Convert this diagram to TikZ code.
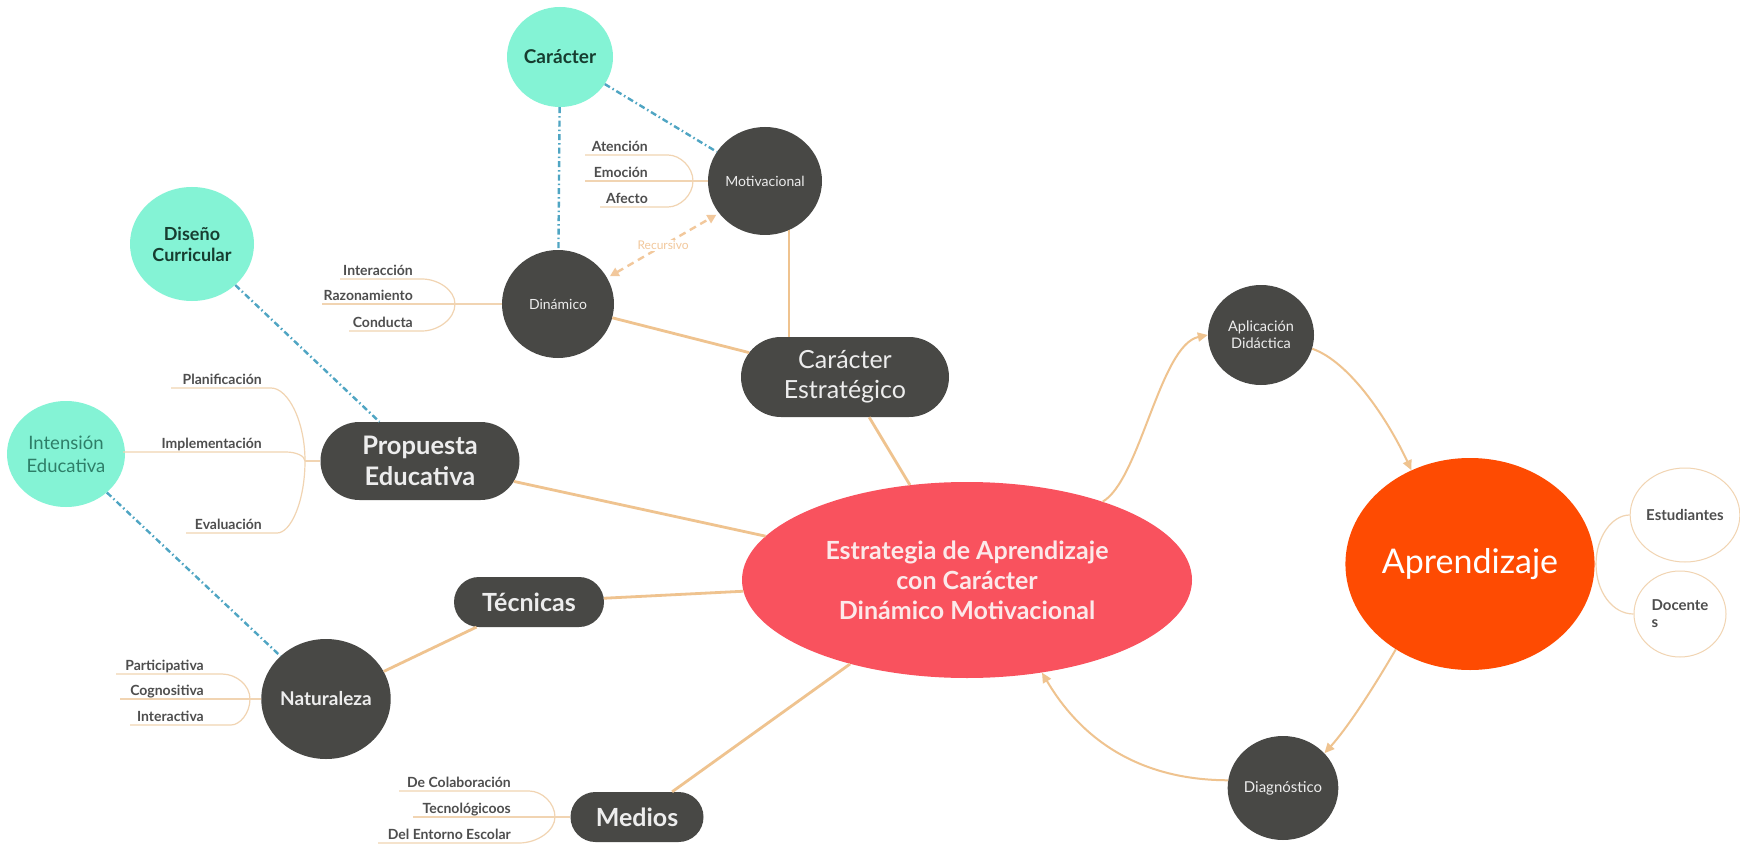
\documentclass[tikz,border=0pt]{standalone}
\usepackage{fontspec}
\setmainfont{Lato}
\usetikzlibrary{shapes.geometric,shapes.misc,arrows.meta,calc}
\definecolor{darkn}{HTML}{484845}
\definecolor{darktxt}{HTML}{EDEDED}
\definecolor{tealn}{HTML}{84F3D5}
\definecolor{tealtxt}{HTML}{173D30}
\definecolor{tealtxtb}{HTML}{2E7E68}
\definecolor{coral}{HTML}{F9525E}
\definecolor{coraltxt}{HTML}{FCE9EA}
\definecolor{orangen}{HTML}{FE4B02}
\definecolor{tanline}{HTML}{EFC38F}
\definecolor{tanlight}{HTML}{F1D4B2}
\definecolor{tanrec}{HTML}{F2C89C}
\definecolor{ddblue}{HTML}{4FA5C3}
\definecolor{lbltxt}{HTML}{4E4E4E}
\tikzset{
  darkc/.style={ellipse, fill=darkn, text=darktxt, inner sep=0pt, align=center},
  tealc/.style={ellipse, fill=tealn, inner sep=0pt, align=center},
  pill/.style={rounded rectangle, fill=darkn, text=darktxt, inner sep=0pt, align=center},
  lbl/.style={anchor=south east, inner sep=0pt, text depth=3pt, text=lbltxt,
    font=\fontsize{14}{16}\selectfont\bfseries},
  mainline/.style={draw=tanline, line width=2.8pt},
  subline/.style={draw=tanlight, line width=1.2pt},
  arrowline/.style={draw=tanline, line width=2pt, -{Triangle[length=10pt,width=9pt]}},
  dashdot/.style={draw=ddblue, line width=2.4pt, dash pattern=on 6pt off 3pt on 1.5pt off 3pt},
  recline/.style={draw=tanrec, line width=2.4pt, dash pattern=on 7pt off 5pt,
    {Triangle[length=9pt,width=9pt]}-{Triangle[length=9pt,width=9pt]}, shorten <=3pt, shorten >=3pt}
}
\begin{document}
\begin{tikzpicture}[x=1pt,y=-1pt]
\useasboundingbox (0,0) rectangle (1740,845);
\fill[white] (0,0) rectangle (1740,845);

% ---- main nodes
\node[tealc, minimum width=106pt, minimum height=100pt, text=tealtxt,
  font=\fontsize{19}{22}\selectfont\bfseries] (car) at (560,57) {Carácter};
\node[darkc, minimum width=114pt, minimum height=108pt,
  font=\fontsize{14}{16}\selectfont] (mot) at (765,181) {Motivacional};
\node[darkc, minimum width=112pt, minimum height=108pt,
  font=\fontsize{14}{16}\selectfont] (din) at (558,304) {Dinámico};
\node[tealc, minimum width=124pt, minimum height=114pt, text=tealtxt,
  font=\fontsize{18}{21}\selectfont\bfseries] (dis) at (192,244) {Diseño\\Curricular};
\node[tealc, minimum width=118pt, minimum height=106pt, text=tealtxtb,
  font=\fontsize{18.5}{23}\selectfont] (int) at (66,454) {Intensión\\Educativa};
\node[pill, minimum width=208pt, minimum height=80pt,
  font=\fontsize{25}{30}\selectfont] (ce) at (845,377) {Carácter\\Estratégico};
\node[pill, minimum width=199pt, minimum height=78pt,
  font=\fontsize{25.5}{31}\selectfont\bfseries] (pe) at (420,461) {Propuesta\\Educativa};
\node[pill, minimum width=150pt, minimum height=50pt,
  font=\fontsize{25}{30}\selectfont\bfseries] (tec) at (529,602) {Técnicas};
\node[darkc, minimum width=128pt, minimum height=120pt,
  font=\fontsize{19}{22}\selectfont\bfseries] (nat) at (326,699) {Naturaleza};
\node[pill, minimum width=133pt, minimum height=50pt,
  font=\fontsize{25}{30}\selectfont\bfseries] (med) at (637,817) {Medios};
\node[ellipse, fill=coral, text=coraltxt, minimum width=450pt, minimum height=196pt,
  inner sep=0pt, align=center, font=\fontsize{25}{30}\selectfont\bfseries] (cen) at (967,580)
  {Estrategia de Aprendizaje\\con Carácter\\Dinámico Motivacional};
\node[darkc, minimum width=106pt, minimum height=100pt,
  font=\fontsize{14.5}{17}\selectfont] (apl) at (1261,335) {Aplicación\\Didáctica};
\node[ellipse, fill=orangen, text=white, minimum width=224pt, minimum height=212pt,
  inner sep=0pt, font=\fontsize{34}{40}\selectfont] (apr) at (1470,564) {Aprendizaje};
\node[ellipse, draw=tanlight, line width=1pt, fill=white, minimum width=100pt,
  minimum height=94pt, inner sep=0pt, text=lbltxt,
  font=\fontsize{15}{18}\selectfont\bfseries] (est) at (1685,515) {Estudiantes};
\node[ellipse, draw=tanlight, line width=1pt, fill=white, minimum width=92pt,
  minimum height=86pt, inner sep=0pt, text=lbltxt, align=left,
  font=\fontsize{15}{17}\selectfont\bfseries] (doc) at (1680,614) {Docente\\s};
\node[darkc, minimum width=108pt, minimum height=104pt,
  font=\fontsize{15}{18}\selectfont] (dia) at (1283,788) {Diagnóstico};

% ---- child labels
\node[lbl] (atn) at (648,155) {Atención};
\node[lbl] (emo) at (648,181) {Emoción};
\node[lbl] (afe) at (648,207) {Afecto};
\node[lbl] (inc) at (413,279) {Interacción};
\node[lbl] (raz) at (413,304) {Razonamiento};
\node[lbl] (con) at (413,331) {Conducta};
\node[lbl] (pla) at (262,388) {Planificación};
\node[lbl] (imp) at (262,452) {Implementación};
\node[lbl] (eva) at (262,533) {Evaluación};
\node[lbl] (par) at (204,674) {Participativa};
\node[lbl] (cog) at (204,699) {Cognositiva};
\node[lbl] (ina) at (204,725) {Interactiva};
\node[lbl] (dco) at (511,791) {De Colaboración};
\node[lbl] (tno) at (511,817) {Tecnológicoos};
\node[lbl] (den) at (511,843) {Del Entorno Escolar};

% ---- branch points
\coordinate (bm) at (693,181);
\coordinate (bd) at (455,304);
\coordinate (bp) at (305,461);
\coordinate (bn) at (250,699);
\coordinate (bme) at (555,817);
\coordinate (ba) at (1596,564);

% ---- child brackets
\draw[subline] (mot.west) -- (bm);
\draw[subline] (bm) .. controls (693,167) and (680,155) .. (668,155) -- (atn.south west -| 585,0);
\draw[subline] (bm) -- (585,181);
\draw[subline] (bm) .. controls (693,195) and (680,207) .. (668,207) -- (600,207);

\draw[subline] (din.west) -- (bd);
\draw[subline] (bd) .. controls (455,290) and (438,279) .. (422,279) -- (340,279);
\draw[subline] (bd) -- (322,304);
\draw[subline] (bd) .. controls (455,319) and (438,331) .. (422,331) -- (349,331);

\draw[subline] (pe.west) -- (bp);
\draw[subline] (bp) .. controls (305,421) and (288,388) .. (271,388) -- (171,388);
\draw[subline] (bp) .. controls (305,456) and (296,452) .. (286,452) -- (123,452);
\draw[subline] (bp) .. controls (305,501) and (291,533) .. (277,533) -- (186,533);

\draw[subline] (nat.west) -- (bn);
\draw[subline] (bn) .. controls (250,685) and (236,674) .. (222,674) -- (116,674);
\draw[subline] (bn) -- (120,699);
\draw[subline] (bn) .. controls (250,713) and (240,725) .. (231,725) -- (130,725);

\draw[subline] (med.west) -- (bme);
\draw[subline] (bme) .. controls (555,803) and (542,791) .. (529,791) -- (399,791);
\draw[subline] (bme) -- (413,817);
\draw[subline] (bme) .. controls (555,831) and (537,843) .. (519,843) -- (378,843);

\draw[subline] (apr.east) -- (ba);
\draw[subline] (ba) .. controls (1596,537) and (1612,515) .. (est.west);
\draw[subline] (ba) .. controls (1596,591) and (1612,614) .. (doc.west);

% ---- main connectors
\draw[mainline] (cen) -- (ce);
\draw[mainline] (mot.-64) -- (mot.-64 |- ce.north);
\draw[mainline] (din) -- (ce);
\draw[mainline] (cen) -- (pe);
\draw[mainline] (cen) -- (tec);
\draw[mainline] (tec) -- (nat);
\draw[mainline] (cen) -- (med);

% ---- cycle arrows
\draw[arrowline] (cen.30) .. controls (1140,480) and (1160,345) .. (apl.west);
\draw[arrowline] (apl.-15) .. controls (1350,362) and (1388,420) .. (apr.122);
\draw[arrowline] (apr.229) .. controls (1378,680) and (1350,725) .. (dia.40);
\draw[arrowline] (dia.172) .. controls (1120,780) and (1070,720) .. (cen.-51);

% ---- dash-dot relations
\draw[dashdot] (car) -- (mot);
\draw[dashdot] (car) -- (din);
\draw[dashdot] (dis) -- (pe.136);
\draw[dashdot] (int) -- (nat);

% ---- recursive link
\draw[recline] (din.28) -- node[fill=white, inner sep=1pt, text=tanrec,
  font=\fontsize{12}{14}\selectfont] (rec) {Recursivo} (mot.215);
\end{tikzpicture}
\end{document}
